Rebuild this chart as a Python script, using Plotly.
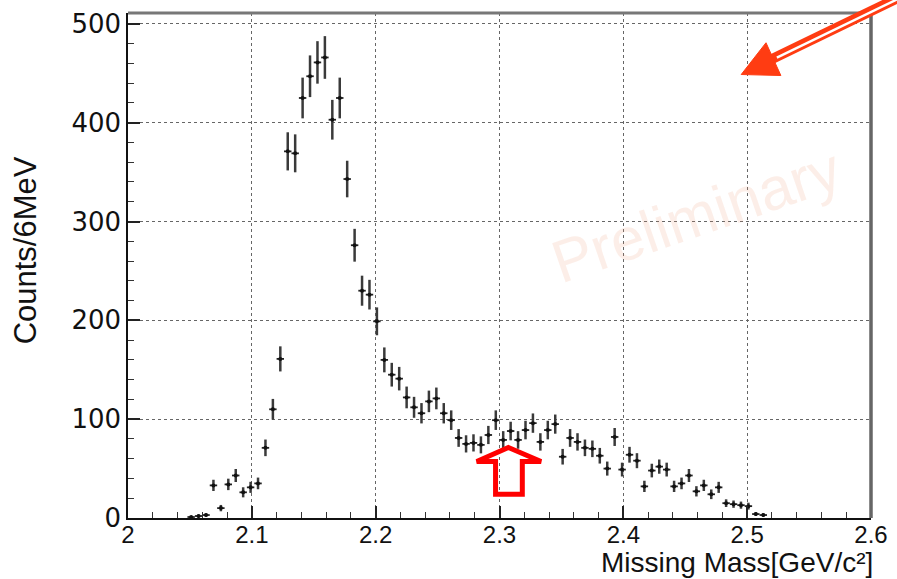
import plotly.graph_objects as go

# Missing-mass bin centres (GeV/c^2), 6 MeV bins
mass = [2.051, 2.057, 2.063, 2.069, 2.075, 2.081, 2.087, 2.093, 2.099, 2.105,
        2.111, 2.117, 2.123, 2.129, 2.135, 2.141, 2.147, 2.153, 2.159, 2.165,
        2.171, 2.177, 2.183, 2.189, 2.195, 2.201, 2.207, 2.213, 2.219, 2.225,
        2.231, 2.237, 2.243, 2.249, 2.255, 2.261, 2.267, 2.273, 2.279, 2.285,
        2.291, 2.297, 2.303, 2.309, 2.315, 2.321, 2.327, 2.333, 2.339, 2.345,
        2.351, 2.357, 2.363, 2.369, 2.375, 2.381, 2.387, 2.393, 2.399, 2.405,
        2.411, 2.417, 2.423, 2.429, 2.435, 2.441, 2.447, 2.453, 2.459, 2.465,
        2.471, 2.477, 2.483, 2.489, 2.495, 2.501, 2.507, 2.513]

counts = [1, 2, 3, 33, 10, 34, 43, 26, 31, 35,
          71, 110, 161, 371, 369, 425, 447, 461, 466, 403,
          425, 343, 276, 230, 226, 199, 160, 145, 141, 122,
          112, 106, 118, 121, 106, 99, 81, 75, 76, 74,
          84, 99, 79, 88, 79, 89, 96, 77, 89, 95,
          62, 81, 77, 71, 70, 63, 50, 82, 49, 64,
          58, 32, 48, 52, 49, 32, 35, 43, 27, 33,
          24, 31, 15, 14, 13, 12, 4, 3]

errors = [1.0, 1.4, 1.7, 5.7, 3.2, 5.8, 6.6, 5.1, 5.6, 5.9,
          8.4, 10.5, 12.7, 19.3, 19.2, 20.6, 21.1, 21.5, 21.6, 20.1,
          20.6, 18.5, 16.6, 15.2, 15.0, 14.1, 12.6, 12.0, 11.9, 11.0,
          10.6, 10.3, 10.9, 11.0, 10.3, 9.9, 9.0, 8.7, 8.7, 8.6,
          9.2, 9.9, 8.9, 9.4, 8.9, 9.4, 9.8, 8.8, 9.4, 9.7,
          7.9, 9.0, 8.8, 8.4, 8.4, 7.9, 7.1, 9.1, 7.0, 8.0,
          7.6, 5.7, 6.9, 7.2, 7.0, 5.7, 5.9, 6.6, 5.2, 5.7,
          4.9, 5.6, 3.9, 3.7, 3.6, 3.5, 2.0, 1.7]

half_bin = 0.003

x_ticks = [2.0, 2.1, 2.2, 2.3, 2.4, 2.5, 2.6]
x_ticktext = ["2", "2.1", "2.2", "2.3", "2.4", "2.5", "2.6"]
y_ticks = [0, 100, 200, 300, 400, 500]

FONT = "Liberation Sans"

fig = go.Figure()
fig.add_trace(go.Scatter(
    x=mass, y=counts, mode="markers",
    marker=dict(color="#111111", size=4, symbol="circle"),
    error_y=dict(type="data", array=errors, visible=True, color="#3a3a3a",
                 thickness=2.5, width=0),
    error_x=dict(type="constant", value=half_bin, visible=True, color="#222222",
                 thickness=1.8, width=0),
    showlegend=False,
))

fig.update_layout(
    width=897, height=579,
    margin=dict(l=128, r=19, t=9, b=61),
    paper_bgcolor="white", plot_bgcolor="white",
    font=dict(family=FONT, color="#111111"),
    xaxis=dict(
        range=[2.0, 2.6], tickvals=x_ticks, ticktext=x_ticktext,
        ticks="inside", ticklen=12, tickwidth=1.5, tickcolor="#222222",
        minor=dict(dtick=0.02, ticks="inside", ticklen=6, tickwidth=1.2,
                   tickcolor="#333333", showgrid=False),
        showgrid=True, gridcolor="#666666", griddash="dot", gridwidth=1,
        showline=True, linecolor="#111111", linewidth=1.5,
        zeroline=False, tickfont=dict(size=24, family=FONT, color="#111111"),
        ticklabelstandoff=-6,
    ),
    yaxis=dict(
        range=[0, 511], tickvals=y_ticks,
        ticks="inside", ticklen=12, tickwidth=1.5, tickcolor="#222222",
        minor=dict(dtick=20, ticks="inside", ticklen=6, tickwidth=1.2,
                   tickcolor="#333333", showgrid=False),
        showgrid=True, gridcolor="#666666", griddash="dot", gridwidth=1,
        showline=True, linecolor="#111111", linewidth=1.5,
        zeroline=False, tickfont=dict(size=26, family="DejaVu Sans", color="#111111"),
    ),
)

# top and right frame edges (grey, thicker)
fig.add_shape(type="line", xref="paper", yref="paper", x0=0, x1=1, y0=1, y1=1,
              line=dict(color="#777777", width=3))
fig.add_shape(type="line", xref="paper", yref="paper", x0=1, x1=1, y0=0, y1=1,
              line=dict(color="#666666", width=3.5))

# axis titles
fig.add_annotation(text="Missing Mass[GeV/c²]", xref="paper", yref="paper",
                   x=1.005, y=0, xanchor="right", yanchor="bottom", yshift=-62,
                   showarrow=False, font=dict(size=28, family=FONT, color="#111111"))
fig.add_annotation(text="Counts/6MeV", xref="paper", yref="paper",
                   x=0, y=0.53, xshift=-103, xanchor="center", yanchor="middle",
                   textangle=-90, showarrow=False,
                   font=dict(size=31, family=FONT, color="#111111"))

# watermark
fig.add_annotation(text="Preliminary", xref="paper", yref="paper",
                   x=0.765, y=0.60, xanchor="center", yanchor="middle",
                   textangle=-19, showarrow=False,
                   font=dict(size=60, family=FONT, color="rgba(235,150,110,0.16)"))

# hollow red up-arrow under the bump (pixel-space path converted to paper coords)
def px(xp):
    return (xp - 128) / 750.0

def py(yp):
    return (518 - yp) / 509.0

pts = [(512, 447), (545, 461), (526, 461), (526, 494), (499, 494), (499, 461), (480, 461)]
path = "M " + " L ".join(f"{px(a):.4f},{py(b):.4f}" for a, b in pts) + " Z"
fig.add_shape(type="path", xref="paper", yref="paper", path=path,
              line=dict(color="#ff0000", width=5), fillcolor="rgba(0,0,0,0)")

# orange-red arrow from the top-right corner
fig.add_shape(type="line", xref="paper", yref="paper",
              x0=px(775), y0=py(57), x1=px(905), y1=py(-6),
              line=dict(color="#ff3c12", width=10))
fig.add_shape(type="line", xref="paper", yref="paper",
              x0=px(783), y0=py(54), x1=px(905), y1=py(-5),
              line=dict(color="white", width=2.5))
tri = [(747, 71), (772, 39), (787, 72)]
tpath = "M " + " L ".join(f"{px(a):.4f},{py(b):.4f}" for a, b in tri) + " Z"
fig.add_shape(type="path", xref="paper", yref="paper", path=tpath,
              line=dict(color="#ff3c12", width=1), fillcolor="#ff3c12")

fig.write_html("out.html")
